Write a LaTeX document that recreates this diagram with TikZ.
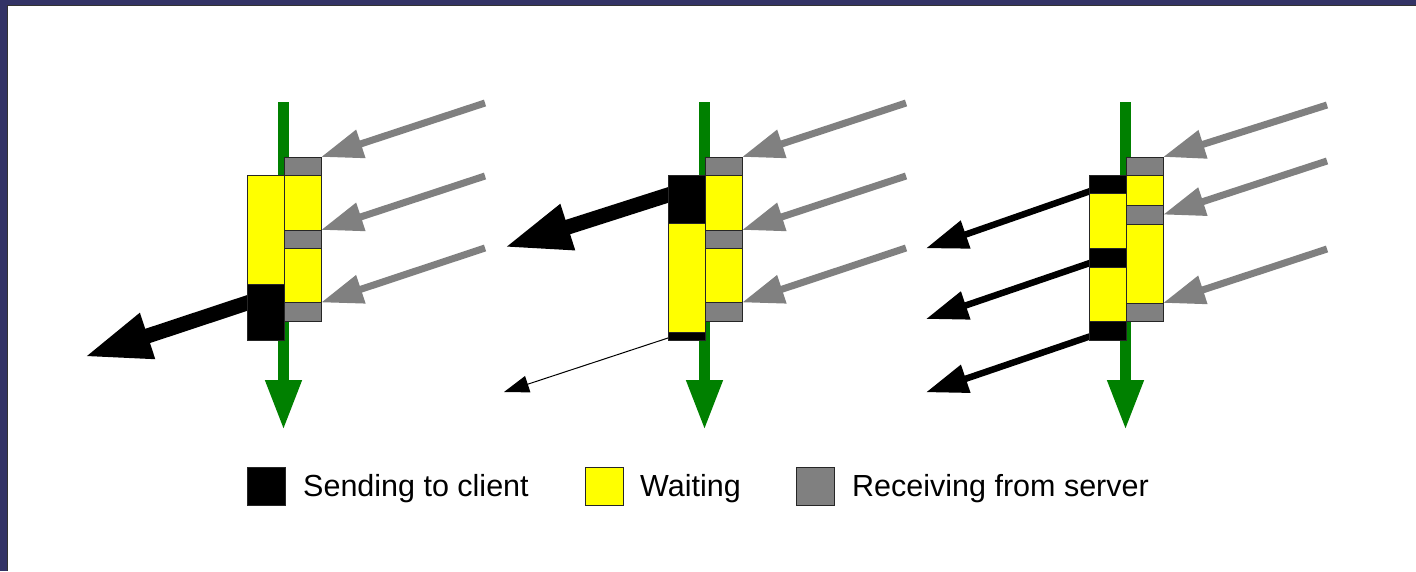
\documentclass[tikz,border=0pt]{standalone}
\usepackage{fontspec}
\setmainfont{Liberation Sans}
\usetikzlibrary{arrows.meta,backgrounds,calc}

\definecolor{frameblue}{RGB}{51,51,102}
\definecolor{timegreen}{RGB}{0,128,0}
\definecolor{recvgray}{RGB}{128,128,128}
\definecolor{waityellow}{RGB}{255,255,0}

\tikzset{
  segment/.style={draw=black!85, line width=0.9pt, inner sep=0pt, outer sep=0pt,
                  minimum width=37pt, anchor=north west},
  timeline/.style={timegreen, line width=10.5pt, -{Triangle[length=50pt,width=34pt]}},
  recvarrow/.style={recvgray, line width=7pt, -{Triangle[length=42pt,width=28pt]}},
  sendheavy/.style={black, line width=15pt, -{Triangle[length=67pt,width=44pt]}},
  sendmid/.style={black, line width=6.5pt, -{Triangle[length=42pt,width=28pt]}},
  sendthin/.style={black, line width=1pt, -{Triangle[length=25pt,width=17pt]}},
  legendbox/.style={draw=black!85, line width=0.9pt, minimum size=38pt,
                    inner sep=0pt, anchor=north west},
  legendtext/.style={anchor=base west, inner sep=0pt,
                     font=\fontsize{30.5}{36}\selectfont},
}

% one time slice of a connection: name, left x, top y, bottom y, colour
\newcommand\segbox[5]{%
  \node[segment, fill=#5, minimum height={#4-#3}] (#1) at (#2,#3) {};}

\begin{document}
\begin{tikzpicture}[x=1pt,y=-1pt]
\useasboundingbox (0,0) rectangle (1416,571);

% ---------- panel 1: one long wait, then one burst to the client ----------
\segbox{p1r1}{284}{157}{175}{recvgray}
\segbox{p1r2}{284}{175}{230}{waityellow}
\segbox{p1r3}{284}{230}{248}{recvgray}
\segbox{p1r4}{284}{248}{302.5}{waityellow}
\segbox{p1r5}{284}{302.5}{321}{recvgray}
\segbox{p1l1}{247}{175}{284.7}{waityellow}
\segbox{p1l2}{247}{284.7}{340}{black}

% ---------- panel 2: send first, then wait ----------
\segbox{p2r1}{705}{157}{175}{recvgray}
\segbox{p2r2}{705}{175}{230}{waityellow}
\segbox{p2r3}{705}{230}{248}{recvgray}
\segbox{p2r4}{705}{248}{302.5}{waityellow}
\segbox{p2r5}{705}{302.5}{321}{recvgray}
\segbox{p2l1}{668}{175}{223.3}{black}
\segbox{p2l2}{668}{223.3}{332.3}{waityellow}
\segbox{p2l3}{668}{332.3}{340}{black}

% ---------- panel 3: interleaved sends ----------
\segbox{p3r1}{1126}{157}{175.7}{recvgray}
\segbox{p3r2}{1126}{175.7}{205.3}{waityellow}
\segbox{p3r3}{1126}{205.3}{224}{recvgray}
\segbox{p3r4}{1126}{224}{303}{waityellow}
\segbox{p3r5}{1126}{303}{321}{recvgray}
\segbox{p3l1}{1089}{175}{193.3}{black}
\segbox{p3l2}{1089}{193.3}{248.3}{waityellow}
\segbox{p3l3}{1089}{248.3}{267.3}{black}
\segbox{p3l4}{1089}{267.3}{321}{waityellow}
\segbox{p3l5}{1089}{321}{340}{black}

% ---------- legend ----------
\node[legendbox, fill=black]      (kblack)  at (247,467) {};
\node[legendbox, fill=waityellow] (kyellow) at (585,467) {};
\node[legendbox, fill=recvgray]   (kgray)   at (796,467) {};
\node[legendtext] (tblack)  at (303,496) {Sending to client};
\node[legendtext] (tyellow) at (640,496) {Waiting};
\node[legendtext] (tgray)   at (852,496) {Receiving from server};

% ---------- page, frame and all arrows, behind the boxes ----------
\begin{pgfonlayer}{background}
  \fill[white] (0,0) rectangle (1416,571);
  \fill[frameblue] (0,0) rectangle (1416,4.5);
  \fill[frameblue] (0,0) rectangle (7,571);
  \draw[black!80, line width=1.2pt] (7.6,571) -- (7.6,5.1) -- (1416,5.1);

  % time axes
  \coordinate (t1s) at (283.5,102);  \coordinate (t1e) at (283.5,430);
  \coordinate (t2s) at (704.5,102);  \coordinate (t2e) at (704.5,430);
  \coordinate (t3s) at (1125.5,102); \coordinate (t3e) at (1125.5,430);
  \draw[timeline] (t1s) -- (t1e);
  \draw[timeline] (t2s) -- (t2e);
  \draw[timeline] (t3s) -- (t3e);

  % data arriving from the server
  \coordinate (g1a) at (485,103);  \coordinate (g1b) at (485,176);  \coordinate (g1c) at (485,248);
  \coordinate (g2a) at (906,103);  \coordinate (g2b) at (906,176);  \coordinate (g2c) at (906,248);
  \coordinate (g3a) at (1327,105); \coordinate (g3b) at (1327,161); \coordinate (g3c) at (1327,249);
  \draw[recvarrow] (g1a) -- (p1r1.north east);
  \draw[recvarrow] (g1b) -- (p1r3.north east);
  \draw[recvarrow] (g1c) -- (p1r5.north east);
  \draw[recvarrow] (g2a) -- (p2r1.north east);
  \draw[recvarrow] (g2b) -- (p2r3.north east);
  \draw[recvarrow] (g2c) -- (p2r5.north east);
  \draw[recvarrow] (g3a) -- (p3r1.north east);
  \draw[recvarrow] (g3b) -- (p3r3.east);
  \draw[recvarrow] (g3c) -- (p3r5.north east);

  % data sent to the client
  \coordinate (s1a) at (247,303);    \coordinate (c1a) at (84,357);
  \coordinate (s2a) at (668,195);    \coordinate (c2a) at (504,247.5);
  \coordinate (s2b) at (668,338);    \coordinate (c2b) at (504,392);
  \coordinate (s3a) at (1089,191.5); \coordinate (c3a) at (926,248.3);
  \coordinate (s3b) at (1089,263.3); \coordinate (c3b) at (926,319);
  \coordinate (s3c) at (1089,336.7); \coordinate (c3c) at (926,392.3);
  \draw[sendheavy] ($(c1a)!1.1!(s1a)$) -- (c1a);
  \draw[sendheavy] ($(c2a)!1.1!(s2a)$) -- (c2a);
  \draw[sendthin]  ($(c2b)!1.1!(s2b)$) -- (c2b);
  \draw[sendmid]   ($(c3a)!1.1!(s3a)$) -- (c3a);
  \draw[sendmid]   ($(c3b)!1.1!(s3b)$) -- (c3b);
  \draw[sendmid]   ($(c3c)!1.1!(s3c)$) -- (c3c);
\end{pgfonlayer}
\end{tikzpicture}
\end{document}
